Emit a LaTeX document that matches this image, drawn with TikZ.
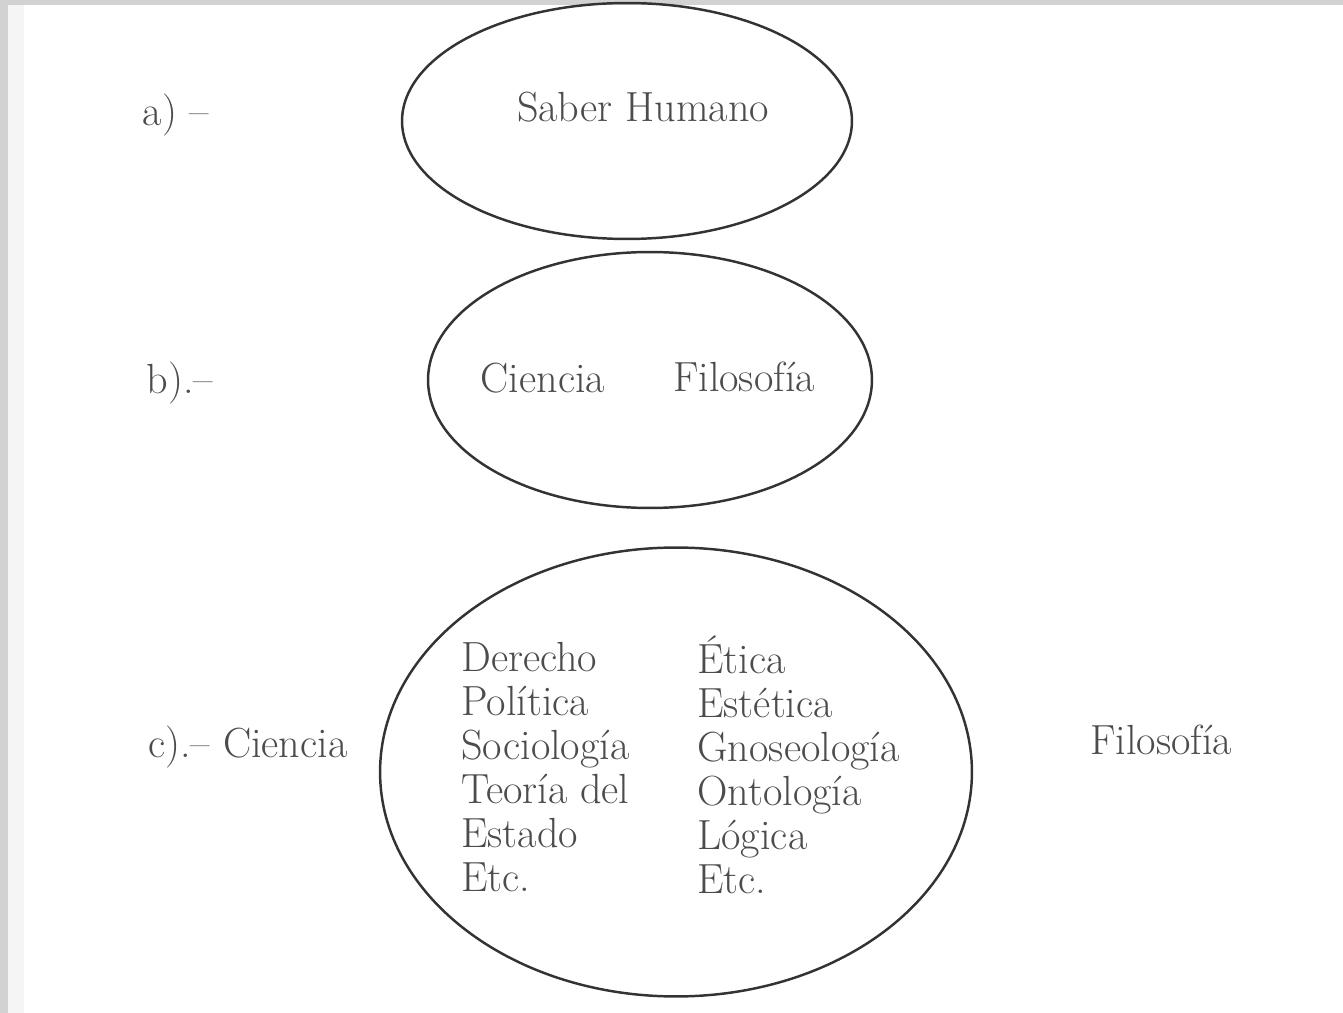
\documentclass[tikz,border=0pt]{standalone}
\usetikzlibrary{shapes.geometric}

\tikzset{
oval/.style={draw=black!80, line width=1.4pt, ellipse, inner sep=0pt},
txt/.style={text=black!70, font=\fontsize{24}{25}\selectfont, inner sep=0pt},
col/.style={txt, align=left, anchor=west}
}

\begin{document}
\begin{tikzpicture}[x=0.02cm,y=-0.02cm]
\useasboundingbox (0,0) rectangle (1343,1013);
\fill[white] (0,0) rectangle (1343,1013);
% scan border
\fill[gray!35] (0,0) rectangle (8,1013);
\fill[gray!35] (0,0) rectangle (1343,5);
\fill[gray!8] (8,5) rectangle (24,1013);

% a)
\node[oval, minimum width=9cm, minimum height=4.72cm] (saber) at (627,121) {};
\node[txt] (la) at (176,115) {a) –};
\node[txt] (saberlbl) at (643,107) {Saber Humano};

% b)
\node[oval, minimum width=8.88cm, minimum height=5.12cm] (dual) at (650,380) {};
\node[txt] (lb) at (180,383) {b).–};
\node[txt] (cien) at (543,378) {Ciencia};
\node[txt] (filo) at (744,377) {Filosofía};

% c)
\node[oval, minimum width=11.84cm, minimum height=8.98cm] (ramas) at (676,772) {};
\node[col] (lc) at (148,747) {c).– Ciencia};
\node[col] (ciencias) at (461,767) {Derecho\\Política\\Sociología\\Teoría del\\Estado\\Etc.};
\node[col] (filosofias) at (697,765) {Ética\\Estética\\Gnoseología\\Ontología\\Lógica\\Etc.};
\node[col] (rc) at (1090,740) {Filosofía};

\end{tikzpicture}
\end{document}
